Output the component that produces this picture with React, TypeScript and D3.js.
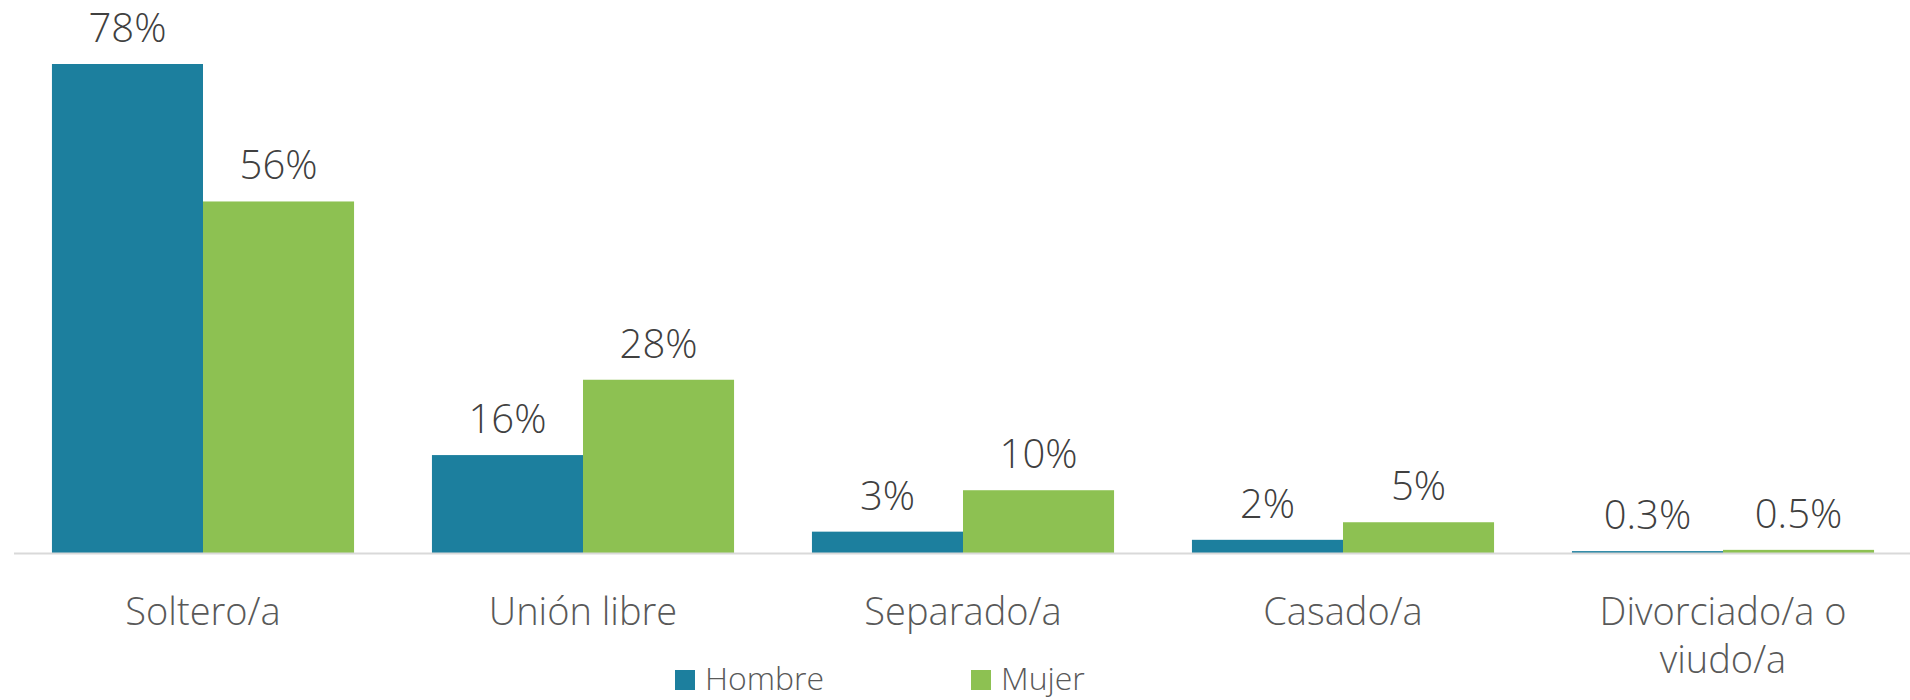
import React from 'react';
import * as d3 from 'd3';

// estado civil por sexo (%)
const categories = ['Soltero/a', 'Unión libre', 'Separado/a', 'Casado/a', 'Divorciado/a o viudo/a'];
const categoryLines = [['Soltero/a'], ['Unión libre'], ['Separado/a'], ['Casado/a'], ['Divorciado/a o', 'viudo/a']];
const seriesNames = ['Hombre', 'Mujer'];
const hombre = [77.9, 15.6, 3.4, 2.1, 0.3];
const mujer = [56.0, 27.6, 10.0, 4.9, 0.5];
const colors = ['#1c7f9e', '#8dc152'];

const width = 1910;
const height = 700;
const baseline = 553;
const top = 64;
const font = "'Open Sans', 'Noto Sans', sans-serif";

const fmt = (v: number) => (v < 1 ? v.toFixed(1) : String(Math.round(v))) + '%';

export default function App() {
  const x = d3.scaleBand<string>()
    .domain(categories)
    .range([13, 1913])
    .paddingInner(0.205)
    .paddingOuter(0.1025);

  const xs = d3.scaleBand<string>()
    .domain(seriesNames)
    .range([0, x.bandwidth()]);

  const y = d3.scaleLinear()
    .domain([0, d3.max(hombre) as number])
    .range([baseline, top]);

  const series = [hombre, mujer];

  return (
    <div style={{ position: 'absolute', left: 0, top: 0 }}>
      <svg width={width} height={height} style={{ display: 'block', background: '#fff' }}>
        {/* barras */}
        {series.map((vals, si) => (
          <g key={seriesNames[si]} fill={colors[si]}>
            {vals.map((v, i) => (
              <rect
                key={i}
                x={(x(categories[i]) as number) + (xs(seriesNames[si]) as number)}
                y={y(v)}
                width={xs.bandwidth()}
                height={baseline - y(v)}
              />
            ))}
          </g>
        ))}

        {/* eje */}
        <line x1={14} x2={1910} y1={baseline + 0.5} y2={baseline + 0.5} stroke="#d9d9d9" strokeWidth={2} />

        {/* etiquetas de valor */}
        {series.map((vals, si) => (
          <g key={'lbl' + si} fontFamily={font} fontSize={40} fontWeight={300} fill="#404040" textAnchor="middle">
            {vals.map((v, i) => (
              <text
                key={i}
                x={(x(categories[i]) as number) + (xs(seriesNames[si]) as number) + xs.bandwidth() / 2}
                y={y(v) - 22}
              >
                {fmt(v)}
              </text>
            ))}
          </g>
        ))}

        {/* categorías */}
        <g fontFamily={font} fontSize={38} fontWeight={300} fill="#595959" textAnchor="middle">
          {categoryLines.map((lines, i) => (
            <text key={i} x={(x(categories[i]) as number) + x.bandwidth() / 2} y={625}>
              {lines.map((l, j) => (
                <tspan key={j} x={(x(categories[i]) as number) + x.bandwidth() / 2} dy={j === 0 ? 0 : 48}>
                  {l}
                </tspan>
              ))}
            </text>
          ))}
        </g>

        {/* leyenda */}
        <g fontFamily={font} fontSize={32} fontWeight={300} fill="#595959">
          {seriesNames.map((s, si) => {
            const lx = 675 + si * 296;
            return (
              <g key={s}>
                <rect x={lx} y={670} width={20} height={20} fill={colors[si]} />
                <text x={lx + 30} y={690}>{s}</text>
              </g>
            );
          })}
        </g>
      </svg>
    </div>
  );
}
